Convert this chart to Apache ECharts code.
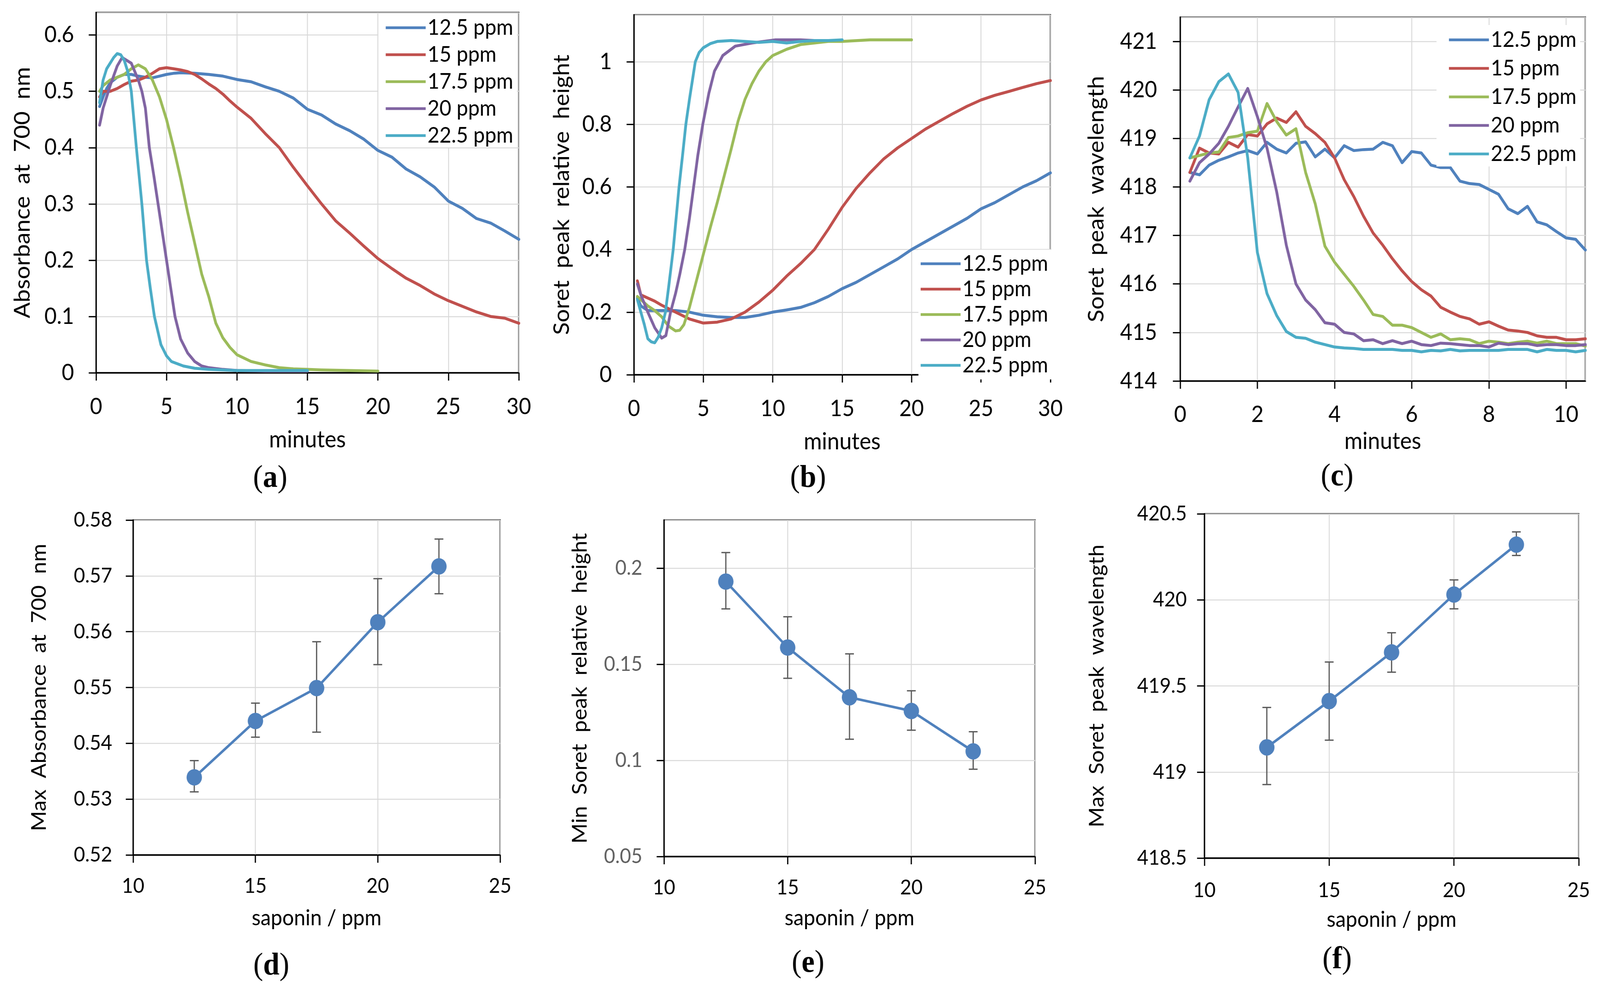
<!DOCTYPE html>
<html><head><meta charset="utf-8">
<script src="https://cdn.jsdelivr.net/npm/echarts@6/dist/echarts.min.js"></script>
<style>html,body{margin:0;padding:0;background:#fff;overflow:hidden}#wrap{width:4364px;height:2526px;transform-origin:0 0}#c{width:4364px;height:2526px}</style>
</head><body><div id="wrap"><div id="c"></div></div><script>
// ---------- names / labels ----------
const seriesNames = ['12.5 ppm', '15 ppm', '17.5 ppm', '20 ppm', '22.5 ppm'];
const colors = ['#4F81BD', '#C0504D', '#9BBB59', '#8064A2', '#4BACC6'];
const panelLetters = ['a', 'b', 'c', 'd', 'e', 'f'];

// ---------- panel (a): absorbance at 700 nm vs minutes ----------
const a_t125 = [0.25,0.5,0.75,1,1.5,2,2.5,3,3.5,4,4.5,5,5.5,6,7,8,9,10,11,12,13,14,15,16,17,18,19,20,21,22,23,24,25,26,27,28,29,30];
const a_y125 = [0.473,0.49,0.505,0.515,0.525,0.53,0.53,0.527,0.525,0.524,0.527,0.53,0.532,0.533,0.532,0.530,0.527,0.521,0.517,0.508,0.500,0.488,0.468,0.458,0.442,0.430,0.415,0.395,0.383,0.362,0.348,0.330,0.305,0.292,0.274,0.266,0.252,0.237];
const a_t15 = [0.25,0.5,1,1.5,2,2.5,3,3.5,4,4.5,5,5.5,6,6.5,7,7.5,8,8.5,9,9.5,10,11,12,13,14,15,16,17,18,19,20,21,22,23,24,25,26,27,28,29,30];
const a_y15 = [0.49,0.50,0.50,0.505,0.512,0.518,0.52,0.525,0.532,0.54,0.542,0.54,0.538,0.535,0.53,0.522,0.513,0.505,0.495,0.483,0.472,0.452,0.425,0.400,0.365,0.332,0.300,0.270,0.248,0.225,0.203,0.185,0.168,0.155,0.140,0.128,0.118,0.108,0.100,0.097,0.088];
const a_t175 = [0.25,0.5,1,1.5,2,2.5,3,3.5,4,4.5,5,5.5,6,6.5,7,7.5,8,8.5,9,9.5,10,11,12,13,14,15,16,18,20];
const a_y175 = [0.50,0.51,0.52,0.525,0.53,0.54,0.547,0.54,0.52,0.49,0.45,0.40,0.345,0.285,0.23,0.175,0.135,0.088,0.062,0.045,0.032,0.02,0.014,0.009,0.007,0.006,0.005,0.004,0.003];
const a_t20 = [0.25,0.5,1,1.5,1.85,2.5,3,3.25,3.5,3.78,4.1,4.4,4.7,5,5.3,5.6,6,6.5,7,7.5,8,9,10,12,15];
const a_y20 = [0.44,0.47,0.51,0.545,0.56,0.55,0.52,0.50,0.47,0.40,0.35,0.30,0.25,0.20,0.15,0.10,0.06,0.035,0.02,0.012,0.009,0.006,0.004,0.003,0.003];
const a_t225 = [0.25,0.5,0.75,1,1.25,1.5,1.75,2,2.25,2.5,2.86,3.25,3.58,3.85,4.14,4.6,5,5.35,6.2,7,8,9,10,12,15];
const a_y225 = [0.48,0.52,0.54,0.55,0.56,0.567,0.565,0.555,0.535,0.50,0.40,0.30,0.20,0.15,0.10,0.05,0.03,0.02,0.012,0.008,0.006,0.005,0.004,0.004,0.004];

// ---------- panel (b): Soret peak relative height vs minutes ----------
const b_t125 = [0.25,0.5,1,2,3,4,5,6,7,8,9,10,11,12,13,14,15,16,17,18,19,20,21,22,23,24,25,26,27,28,29,30];
const b_y125 = [0.245,0.22,0.205,0.205,0.205,0.20,0.19,0.185,0.183,0.183,0.19,0.20,0.207,0.215,0.23,0.25,0.275,0.295,0.32,0.345,0.37,0.40,0.425,0.45,0.475,0.50,0.53,0.55,0.575,0.60,0.62,0.645];
const b_t15 = [0.25,0.5,1,1.5,2,3,4,5,6,7,8,9,10,11,12,13,14,15,16,17,18,19,20,21,22,23,24,25,26,27,28,29,30];
const b_y15 = [0.30,0.255,0.245,0.235,0.222,0.20,0.178,0.165,0.168,0.178,0.20,0.232,0.27,0.315,0.355,0.40,0.465,0.535,0.595,0.645,0.69,0.725,0.755,0.785,0.81,0.835,0.858,0.878,0.893,0.905,0.918,0.93,0.94];
const b_t175 = [0.25,0.5,1,1.5,2,2.5,3,3.3,3.6,4,4.5,5,5.5,6,6.5,7,7.5,8,8.5,9,9.5,10,11,12,13,14,15,17,20];
const b_y175 = [0.25,0.24,0.22,0.205,0.185,0.155,0.14,0.142,0.16,0.215,0.30,0.385,0.47,0.55,0.635,0.72,0.81,0.88,0.93,0.97,1.0,1.02,1.04,1.055,1.06,1.065,1.065,1.07,1.07];
const b_t20 = [0.25,0.5,1,1.5,2,2.3,2.64,3,3.3,3.66,4,4.3,4.6,4.96,5.4,5.8,6.4,7.3,8.5,10.2,12,13];
const b_y20 = [0.29,0.255,0.20,0.15,0.117,0.125,0.20,0.26,0.32,0.40,0.50,0.60,0.70,0.80,0.90,0.97,1.02,1.05,1.06,1.07,1.07,1.068];
const b_t225 = [0.25,0.5,0.75,1,1.25,1.5,1.75,2,2.27,2.5,2.83,3.25,3.5,3.74,4,4.42,4.7,5,5.5,6,7,8,9,10,11,12,13,14,15];
const b_y225 = [0.24,0.2,0.16,0.115,0.105,0.102,0.12,0.15,0.2,0.28,0.4,0.6,0.7,0.8,0.88,1.0,1.03,1.045,1.058,1.065,1.068,1.065,1.062,1.065,1.06,1.065,1.068,1.068,1.07];

// ---------- panel (c): Soret peak wavelength vs minutes ----------
const c_t = [0.25,0.5,0.75,1,1.25,1.5,1.75,2,2.25,2.5,2.75,3,3.25,3.5,3.75,4,4.25,4.5,4.75,5,5.25,5.5,5.75,6,6.25,6.5,6.75,7,7.25,7.5,7.75,8,8.25,8.5,8.75,9,9.25,9.5,9.75,10,10.25,10.5];
const c_y125 = [418.3,418.25,418.45,418.55,418.62,418.7,418.75,418.68,418.92,418.78,418.7,418.9,418.93,418.62,418.78,418.6,418.85,418.75,418.77,418.78,418.92,418.85,418.5,418.73,418.7,418.45,418.4,418.4,418.12,418.07,418.05,417.95,417.85,417.55,417.45,417.6,417.28,417.22,417.08,416.95,416.92,416.7];
const c_y15 = [418.3,418.8,418.7,418.68,418.92,418.82,419.08,419.05,419.3,419.42,419.33,419.55,419.25,419.1,418.92,418.6,418.15,417.8,417.4,417.05,416.8,416.52,416.27,416.05,415.88,415.75,415.52,415.42,415.33,415.28,415.17,415.22,415.13,415.05,415.03,415.0,414.93,414.9,414.9,414.85,414.85,414.87];
const c_y175 = [418.6,418.65,418.7,418.72,419.02,419.05,419.12,419.15,419.72,419.35,419.07,419.2,418.3,417.65,416.78,416.45,416.2,415.95,415.67,415.37,415.33,415.15,415.15,415.1,415.0,414.9,414.97,414.85,414.87,414.85,414.77,414.82,414.8,414.77,414.8,414.82,414.78,414.82,414.77,414.77,414.77,414.72];
const c_y20 = [418.12,418.5,418.68,418.9,419.25,419.65,420.03,419.45,418.8,417.9,416.8,416.0,415.67,415.47,415.2,415.17,415.0,414.97,414.83,414.85,414.77,414.83,414.77,414.82,414.75,414.73,414.78,414.77,414.75,414.73,414.73,414.7,414.78,414.75,414.77,414.77,414.73,414.75,414.75,414.73,414.73,414.75];
const c_y225 = [418.6,419.05,419.8,420.17,420.33,419.95,418.6,416.65,415.8,415.35,415.02,414.9,414.88,414.8,414.75,414.7,414.68,414.67,414.65,414.65,414.65,414.65,414.63,414.63,414.6,414.63,414.62,414.65,414.62,414.63,414.63,414.63,414.63,414.65,414.65,414.65,414.6,414.65,414.63,414.63,414.6,414.63];

// ---------- panels (d)-(f): vs saponin concentration ----------
const saponin = [12.5, 15, 17.5, 20, 22.5];
const d_val = [0.5339, 0.5440, 0.5499, 0.5617, 0.5717];
const d_lo  = [0.5313, 0.5411, 0.5420, 0.5541, 0.5668];
const d_hi  = [0.5369, 0.5472, 0.5582, 0.5695, 0.5766];
const e_val = [0.1930, 0.1587, 0.1328, 0.1257, 0.1047];
const e_lo  = [0.1788, 0.1427, 0.1110, 0.1157, 0.0954];
const e_hi  = [0.2081, 0.1747, 0.1554, 0.1362, 0.1149];
const f_val = [419.143, 419.412, 419.695, 420.031, 420.321];
const f_lo  = [418.927, 419.185, 419.580, 419.948, 420.258];
const f_hi  = [419.375, 419.639, 419.809, 420.116, 420.395];

// ---------- fit the 4364x2526 design into the actual viewport ----------
(function () {
  const sx = Math.min(1, (window.innerWidth || 4364) / 4364);
  const sy = Math.min(1, (window.innerHeight || 2526) / 2526);
  document.getElementById('wrap').style.transform = 'scale(' + sx + ',' + sy + ')';
})();

// ---------- helpers ----------
const FONT = 'Lato';
const pairs = (t, y) => t.map((v, i) => [v, y[i]]);

const grids = [
  {left: 262,  top: 32,   width: 1153, height: 922},
  {left: 1729, top: 38,   width: 1136, height: 921},
  {left: 3219, top: 44,   width: 1105, height: 931},
  {left: 363,  top: 1331, width: 1001, height: 857},
  {left: 1811, top: 1331, width: 1012, height: 861},
  {left: 3285, top: 1315, width: 1021, height: 881}
].map(g => Object.assign({show: true, borderColor: '#000', borderWidth: 3.3, backgroundColor: 'transparent', containLabel: false}, g));

function axis(idx, o) {
  return {
    gridIndex: idx, type: 'value', min: o.min, max: o.max, interval: o.interval,
    name: o.name, nameLocation: 'middle', nameGap: o.nameGap,
    nameTextStyle: {fontFamily: FONT, fontSize: o.nameSize, color: '#000'},
    axisLine: {show: true, onZero: false, lineStyle: {color: '#000', width: 3.3}},
    axisTick: {show: true, inside: false, length: 20, lineStyle: {color: '#000', width: 3.3}},
    axisLabel: {fontFamily: FONT, fontSize: o.labelSize, color: o.labelColor || '#000', margin: o.margin, showMaxLabel: o.showMax !== false, showMinLabel: true},
    splitLine: {show: true, lineStyle: {color: '#d9d9d9', width: 2.5}}
  };
}

const xAxes = [
  axis(0, {min: 0, max: 30, interval: 5, name: 'minutes', nameGap: 142, nameSize: 60, labelSize: 58, margin: 58}),
  axis(1, {min: 0, max: 30, interval: 5, name: 'minutes', nameGap: 142, nameSize: 60, labelSize: 58, margin: 58}),
  axis(2, {min: 0, max: 10.5, interval: 2, name: 'minutes', nameGap: 125, nameSize: 60, labelSize: 58, margin: 57, showMax: false}),
  axis(3, {min: 10, max: 25, interval: 5, name: 'saponin / ppm', nameGap: 134, nameSize: 56, labelSize: 53, margin: 53}),
  axis(4, {min: 10, max: 25, interval: 5, name: 'saponin / ppm', nameGap: 130, nameSize: 56, labelSize: 53, margin: 53}),
  axis(5, {min: 10, max: 25, interval: 5, name: 'saponin / ppm', nameGap: 130, nameSize: 56, labelSize: 53, margin: 56})
];
const yAxes = [
  axis(0, {min: 0, max: 0.64, interval: 0.1, name: 'Absorbance  at  700  nm', nameGap: 170, nameSize: 60, labelSize: 58, margin: 60, showMax: false}),
  axis(1, {min: 0, max: 1.15, interval: 0.2, name: 'Soret  peak  relative  height', nameGap: 166, nameSize: 60, labelSize: 58, margin: 60, showMax: false}),
  axis(2, {min: 414, max: 421.5, interval: 1, name: 'Soret  peak  wavelength', nameGap: 198, nameSize: 60, labelSize: 58, margin: 63, showMax: false}),
  axis(3, {min: 0.52, max: 0.58, interval: 0.01, name: 'Max  Absorbance  at  700  nm', nameGap: 228, nameSize: 56, labelSize: 53, margin: 57}),
  axis(4, {min: 0.05, max: 0.225, interval: 0.05, name: 'Min  Soret  peak  relative  height', nameGap: 201, nameSize: 56, labelSize: 53, margin: 59, showMax: false, labelColor: '#606060'}),
  axis(5, {min: 418.5, max: 420.5, interval: 0.5, name: 'Max  Soret  peak  wavelength', nameGap: 265, nameSize: 56, labelSize: 53, margin: 48})
];

function timeLine(idx, k, t, y) {
  return {
    type: 'line', name: seriesNames[k], xAxisIndex: idx, yAxisIndex: idx,
    data: pairs(t, y), symbol: 'none', showSymbol: false, smooth: false, clip: true,
    color: colors[k], lineStyle: {color: colors[k], width: 7.5, join: 'round', cap: 'round'}, z: 3
  };
}

function errorBars(idx, x, lo, hi) {
  return {
    type: 'custom', xAxisIndex: idx, yAxisIndex: idx, z: 1, silent: true,
    data: x.map((v, i) => [v, lo[i], hi[i]]),
    encode: {x: 0, y: [1, 2]},
    renderItem: function (params, api) {
      const xv = api.value(0);
      const p1 = api.coord([xv, api.value(1)]);
      const p2 = api.coord([xv, api.value(2)]);
      const w = 12;
      const st = {stroke: '#5a5a5a', lineWidth: 3.3};
      return {type: 'group', children: [
        {type: 'line', shape: {x1: p1[0], y1: p1[1], x2: p2[0], y2: p2[1]}, style: st},
        {type: 'line', shape: {x1: p1[0] - w, y1: p1[1], x2: p1[0] + w, y2: p1[1]}, style: st},
        {type: 'line', shape: {x1: p2[0] - w, y1: p2[1], x2: p2[0] + w, y2: p2[1]}, style: st}
      ]};
    }
  };
}

function summaryLine(idx, x, y) {
  return {
    type: 'line', name: 'summary' + idx, xAxisIndex: idx, yAxisIndex: idx,
    data: pairs(x, y), symbol: 'circle', symbolSize: 42, showSymbol: true,
    color: '#4F81BD', itemStyle: {color: '#4F81BD'}, lineStyle: {color: '#4F81BD', width: 6.5}, z: 3
  };
}

const series = [
  timeLine(0, 0, a_t125, a_y125), timeLine(0, 1, a_t15, a_y15), timeLine(0, 2, a_t175, a_y175),
  timeLine(0, 3, a_t20, a_y20), timeLine(0, 4, a_t225, a_y225),
  timeLine(1, 0, b_t125, b_y125), timeLine(1, 1, b_t15, b_y15), timeLine(1, 2, b_t175, b_y175),
  timeLine(1, 3, b_t20, b_y20), timeLine(1, 4, b_t225, b_y225),
  timeLine(2, 0, c_t, c_y125), timeLine(2, 1, c_t, c_y15), timeLine(2, 2, c_t, c_y175),
  timeLine(2, 3, c_t, c_y20), timeLine(2, 4, c_t, c_y225),
  errorBars(3, saponin, d_lo, d_hi), summaryLine(3, saponin, d_val),
  errorBars(4, saponin, e_lo, e_hi), summaryLine(4, saponin, e_val),
  errorBars(5, saponin, f_lo, f_hi), summaryLine(5, saponin, f_val)
];

function legend(left, top, gap, padding) {
  return {
    data: seriesNames.map(n => ({name: n, icon: 'rect'})), orient: 'vertical', align: 'left', left: left, top: top,
    itemWidth: 109, itemHeight: 7, itemGap: gap, padding: padding,
    backgroundColor: '#fff', selectedMode: false,
    textStyle: {fontFamily: FONT, fontSize: 56, lineHeight: 54, color: '#000'}
  };
}
const legends = [
  legend(1032, 35, 13, [8, 10, 2, 20]),
  legend(2505, 639, 9, [8, 10, 8, 6]),
  legend(3918, 64, 17, [10, 10, 4, 34])
];

const labelPos = [[737, 1225], [2204, 1225], [3647, 1221], [740, 2473], [2204, 2466], [3647, 2457]];
const graphics = labelPos.map((p, i) => ({
  type: 'text', x: p[0], y: p[1],
  style: {
    text: '{n|(}{b|' + panelLetters[i] + '}{n|)}', align: 'center', verticalAlign: 'middle',
    rich: {
      n: {fontFamily: 'Liberation Serif', fontSize: 80, fill: '#000'},
      b: {fontFamily: 'Liberation Serif', fontSize: 80, fontWeight: 'bold', fill: '#000'}
    }
  }
}));

const chart = echarts.init(document.getElementById('c'), null, {renderer: 'canvas', width: 4364, height: 2526});
chart.setOption({
  backgroundColor: '#fff',
  animation: false,
  grid: grids,
  xAxis: xAxes,
  yAxis: yAxes,
  legend: legends,
  series: series,
  graphic: graphics
});
</script></body></html>
